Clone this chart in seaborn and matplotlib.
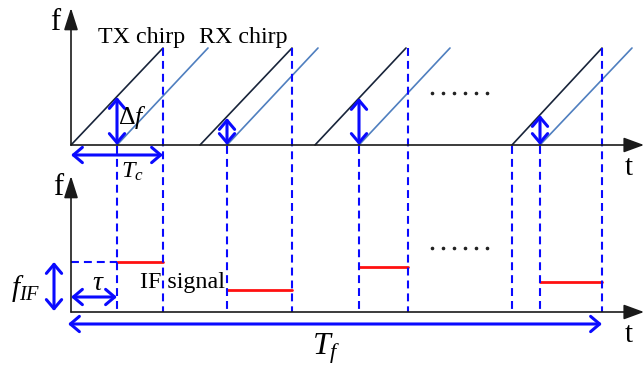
import matplotlib
matplotlib.use("Agg")
import matplotlib.pyplot as plt
import seaborn as sns
import pandas as pd

# ---------------- data (pixel-like diagram coordinates) ----------------
tx_start = [71, 200, 315, 512]      # TX chirp start times
tx_end = [163, 292, 406, 602]       # TX chirp end times
rx_start = [117, 227, 359, 540]     # RX chirp start times (delayed)
rx_end = [208, 318, 450, 632]       # RX chirp end times
delta_f_top = [97, 118, 98, 115]    # TX frequency at RX start (Δf arrow top)
if_level = [262, 290, 267, 282]     # IF frequency level in lower panel
if_end = [163, 292, 408, 602]       # IF segment end times
dash_top_x = [163, 292, 408, 602]   # dashed lines starting at chirp top
dash_mid_x = [117, 227, 359, 512, 540]  # dashed lines starting at upper baseline
dots_x = [432, 443, 454, 465, 476, 487]

top_base, chirp_top = 145, 48
bot_base = 312

BLUE = "#0a0aff"
RED = "#ff1010"
TXC = "#18243a"
RXC = "#4f7fbf"
AX = "#1a1a1a"

sns.set_theme(style="white")
plt.rcParams["font.family"] = ["Liberation Serif", "DejaVu Serif"]
plt.rcParams["mathtext.fontset"] = "custom"
plt.rcParams["mathtext.rm"] = "Liberation Serif"
plt.rcParams["mathtext.it"] = "Liberation Serif:italic"

fig = plt.figure(figsize=(6.44, 3.65), dpi=100)
ax = fig.add_axes([0, 0, 1, 1])

# chirp lines via seaborn
rows = []
for i in range(4):
    rows += [dict(x=tx_start[i], y=top_base, seg=i, kind="TX"),
             dict(x=tx_end[i], y=chirp_top, seg=i, kind="TX"),
             dict(x=rx_start[i], y=top_base, seg=i, kind="RX"),
             dict(x=rx_end[i], y=chirp_top, seg=i, kind="RX")]
df = pd.DataFrame(rows)
sns.lineplot(data=df[df.kind == "TX"], x="x", y="y", units="seg", estimator=None,
             color=TXC, lw=1.2, ax=ax, legend=False)
sns.lineplot(data=df[df.kind == "RX"], x="x", y="y", units="seg", estimator=None,
             color=RXC, lw=1.2, ax=ax, legend=False)

# IF signal segments
if_df = pd.DataFrame([dict(x=v, y=if_level[i], seg=i) for i in range(4)
                      for v in (rx_start[i], if_end[i])])
sns.lineplot(data=if_df, x="x", y="y", units="seg", estimator=None,
             color=RED, lw=2.0, ax=ax, legend=False)

ax.set_xlim(0, 644)
ax.set_ylim(365, 0)
ax.axis("off")

dash = dict(color=BLUE, lw=1.5, dashes=(3.8, 2.4))
for x in dash_top_x:
    ax.plot([x, x], [chirp_top, bot_base], **dash)
for x in dash_mid_x:
    ax.plot([x, x], [top_base + 1, bot_base], **dash)
ax.plot([71, 117], [if_level[0], if_level[0]], **dash)

# axes with filled arrows
def axis_arrow(x1, y1, x2, y2, hl, hw):
    ax.annotate("", xy=(x2, y2), xytext=(x1, y1),
                arrowprops=dict(arrowstyle=f"-|>,head_length={hl},head_width={hw}",
                                color=AX, lw=1.2, shrinkA=0, shrinkB=0,
                                mutation_scale=10))

axis_arrow(71, top_base, 71, 8, 1.35, 0.43)
axis_arrow(71, top_base, 644, top_base, 1.25, 0.46)
axis_arrow(71, bot_base, 71, 176, 1.35, 0.43)
axis_arrow(71, bot_base, 644, bot_base, 1.25, 0.46)

# double arrows
def dbl(x1, y1, x2, y2):
    ax.annotate("", xy=(x2, y2), xytext=(x1, y1),
                arrowprops=dict(arrowstyle="<->,head_length=0.65,head_width=0.55",
                                color=BLUE, lw=2.2, shrinkA=0, shrinkB=0,
                                mutation_scale=10))

for i in range(4):
    dbl(rx_start[i], delta_f_top[i], rx_start[i], top_base)
dbl(71, 155, 163, 155)
dbl(71, 297, 117, 297)
dbl(54, 262, 54, 311)
dbl(68, 324, 602, 324)

# dots
ax.plot(dots_x, [93] * len(dots_x), ls="none", marker="o", ms=1.6, color="#222222")
ax.plot(dots_x, [248] * len(dots_x), ls="none", marker="o", ms=1.6, color="#222222")

# texts
fs = 17.3
ax.text(55, 30, "f", fontsize=22, ha="center", va="baseline", color="black")
ax.text(98, 43, "TX chirp", fontsize=fs, ha="left", va="baseline", color="black")
ax.text(199, 43, "RX chirp", fontsize=fs, ha="left", va="baseline", color="black")
ax.text(118, 124, r"$\Delta f$", fontsize=18.5, ha="left", va="baseline", color="black")
ax.text(629, 175, "t", fontsize=21, ha="center", va="baseline", color="black")
ax.text(121, 178, r"$T_c$", fontsize=17.5, ha="left", va="baseline", color="black")
ax.text(58, 195, "f", fontsize=22, ha="center", va="baseline", color="black")
ax.text(629, 342, "t", fontsize=21, ha="center", va="baseline", color="black")
ax.text(11, 296, r"$f_{IF}$", fontsize=21, ha="left", va="baseline", color="black")
ax.text(98, 290, r"$\tau$", fontsize=20, ha="center", va="baseline", color="black")
ax.text(140, 288, "IF signal", fontsize=fs, ha="left", va="baseline", color="black")
ax.text(312, 355, r"$T_f$", fontsize=23, ha="left", va="baseline", color="black")

fig.savefig("out.png", dpi=100)
